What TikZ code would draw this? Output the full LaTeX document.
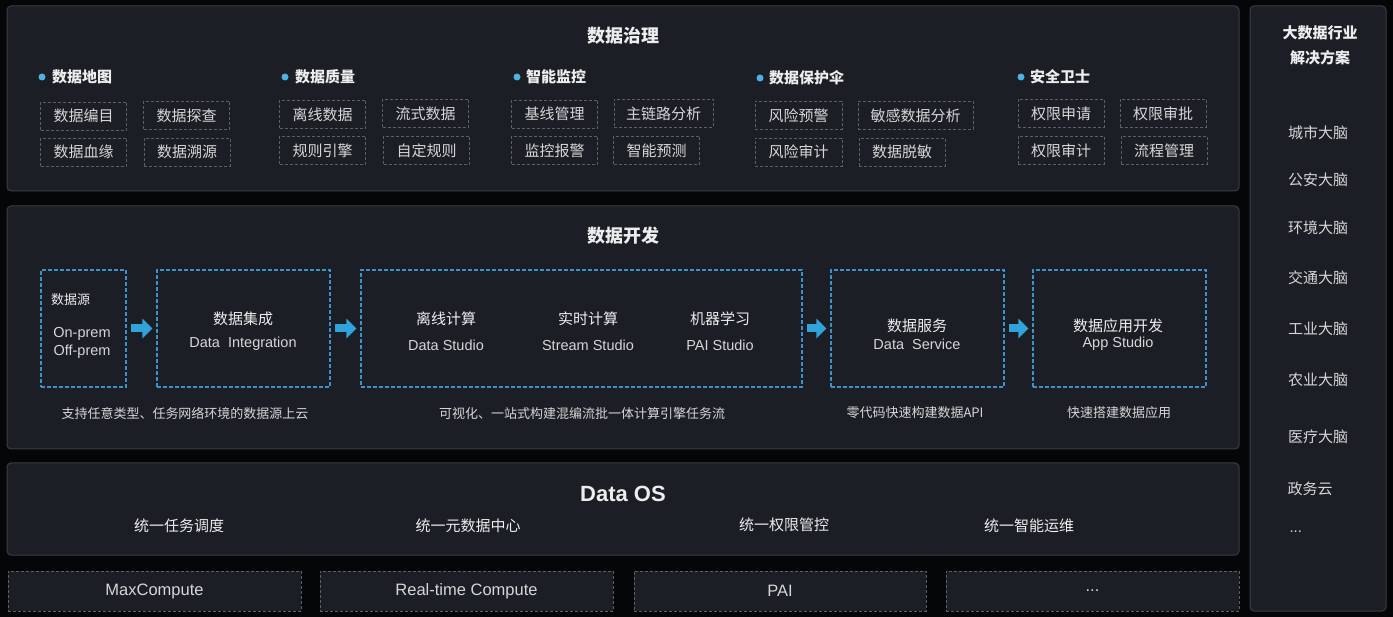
\documentclass[tikz,border=0pt]{standalone}
\usepackage{fontspec}
\setmainfont{Noto Sans CJK SC}
\newfontfamily\latinfont{Liberation Sans}
\usetikzlibrary{arrows.meta}
\definecolor{bg}{HTML}{050608}
\definecolor{panel}{HTML}{1C1E25}
\definecolor{pborder}{HTML}{3A3D45}
\definecolor{gdash}{HTML}{5C5F66}
\definecolor{bdash}{HTML}{3C92C8}
\definecolor{txt}{HTML}{EDEDED}
\definecolor{stxt}{HTML}{D6D6D6}
\definecolor{arrowblue}{HTML}{2FA3DA}
\begin{document}
\begin{tikzpicture}[x=1pt,y=-1pt,
  panelbox/.style={draw=pborder,fill=panel,line width=1pt,rounded corners=4pt},
  gbox/.style={draw=gdash,dash pattern=on 3pt off 2pt,line width=0.9pt,inner sep=0pt,
     text=stxt,font=\fontsize{15}{18}\selectfont},
  bbox/.style={draw=bdash,dash pattern=on 4pt off 2pt,line width=1.1pt,inner sep=0pt},
  botbox/.style={draw=gdash,fill=panel,dash pattern=on 3pt off 2pt,line width=0.9pt,inner sep=0pt,
     text=stxt,font=\latinfont\fontsize{16.5}{19}\selectfont},
  ptitle/.style={text=txt,font=\bfseries\fontsize{18}{22}\selectfont},
  ghead/.style={text=txt,anchor=west,inner sep=0pt,font=\bfseries\fontsize{15}{18}\selectfont},
  dot/.style={circle,fill=arrowblue!85!white,inner sep=0pt,minimum size=7pt},
  dtxt/.style={text=txt,font=\fontsize{15}{18}\selectfont},
  etxt/.style={text=stxt,font=\latinfont\fontsize{14.5}{17}\selectfont},
  captxt/.style={text=stxt,font=\fontsize{13}{16}\selectfont},
  ritem/.style={text=stxt,font=\fontsize{15}{18}\selectfont},
  blockarrow/.style={draw=arrowblue,line width=8pt,-{Triangle[width=19pt,length=10pt]},shorten <=4pt,shorten >=4pt}
]
\useasboundingbox (0,0) rectangle (1393,617);
\fill[bg] (0,0) rectangle (1393,617);

% ---------- panels ----------
\draw[panelbox] (7,6) rectangle (1239,191);
\draw[panelbox] (7,206) rectangle (1239,449);
\draw[panelbox] (7,463) rectangle (1239,555);
\draw[panelbox] (1250,6) rectangle (1386,611);

% ---------- governance ----------
\node[ptitle] (govt) at (623,36) {数据治理};

\node[dot] (d1) at (42,77) {};
\node[ghead] (h1) at (52,77) {数据地图};
\node[dot] (d2) at (285,77) {};
\node[ghead] (h2) at (295,77) {数据质量};
\node[dot] (d3) at (517,77) {};
\node[ghead] (h3) at (526,77) {智能监控};
\node[dot] (d4) at (760,78) {};
\node[ghead] (h4) at (769,78) {数据保护伞};
\node[dot] (d5) at (1021,77) {};
\node[ghead] (h5) at (1030,77) {安全卫士};

\node[gbox,minimum width=86pt,minimum height=28pt] (g11) at (83.5,116) {数据编目};
\node[gbox,minimum width=86pt,minimum height=28pt] (g12) at (186.5,115.5) {数据探查};
\node[gbox,minimum width=86pt,minimum height=28pt] (g13) at (83.5,152) {数据血缘};
\node[gbox,minimum width=86pt,minimum height=28pt] (g14) at (187,152) {数据溯源};

\node[gbox,minimum width=86pt,minimum height=28pt] (g21) at (322.5,114.5) {离线数据};
\node[gbox,minimum width=86pt,minimum height=28pt] (g22) at (425.5,113.5) {流式数据};
\node[gbox,minimum width=86pt,minimum height=28pt] (g23) at (322.5,150.5) {规则引擎};
\node[gbox,minimum width=86pt,minimum height=28pt] (g24) at (426.5,150.5) {自定规则};

\node[gbox,minimum width=86pt,minimum height=28pt] (g31) at (554.5,114) {基线管理};
\node[gbox,minimum width=99pt,minimum height=28pt] (g32) at (663.5,113.5) {主链路分析};
\node[gbox,minimum width=86pt,minimum height=28pt] (g33) at (554.5,150.5) {监控报警};
\node[gbox,minimum width=86pt,minimum height=28pt] (g34) at (656.5,150.5) {智能预测};

\node[gbox,minimum width=87pt,minimum height=28pt] (g41) at (798.5,115.5) {风险预警};
\node[gbox,minimum width=115pt,minimum height=28pt] (g42) at (915.5,115.5) {敏感数据分析};
\node[gbox,minimum width=87pt,minimum height=28pt] (g43) at (798.5,152) {风险审计};
\node[gbox,minimum width=86pt,minimum height=28pt] (g44) at (902,152) {数据脱敏};

\node[gbox,minimum width=86pt,minimum height=28pt] (g51) at (1061,113.5) {权限申请};
\node[gbox,minimum width=86pt,minimum height=28pt] (g52) at (1163,113.5) {权限审批};
\node[gbox,minimum width=86pt,minimum height=28pt] (g53) at (1061,150.5) {权限审计};
\node[gbox,minimum width=86pt,minimum height=28pt] (g54) at (1164,150.5) {流程管理};

% ---------- development ----------
\node[ptitle] (devt) at (623,236) {数据开发};

\node[bbox,minimum width=85pt,minimum height=117pt] (src) at (83.5,328.5) {};
\node[text=txt,anchor=west,inner sep=0pt,font=\fontsize{13}{16}\selectfont] (srct) at (51,300) {数据源};
\node[etxt,align=center,inner sep=0pt,font=\latinfont\fontsize{14.5}{18}\selectfont] (srce) at (82,343) {On-prem\\Off-prem};

\node[bbox,minimum width=173pt,minimum height=117pt] (di) at (243.5,328.5) {};
\node[dtxt] (dit) at (243,319) {数据集成};
\node[etxt] (die) at (243,344) {Data\ \ Integration};

\node[bbox,minimum width=441pt,minimum height=117pt] (comp) at (581.5,328.5) {};
\node[dtxt] (c1t) at (446,319) {离线计算};
\node[etxt] (c1e) at (446,345) {Data Studio};
\node[dtxt] (c2t) at (588,319) {实时计算};
\node[etxt] (c2e) at (588,345) {Stream Studio};
\node[dtxt] (c3t) at (720,319) {机器学习};
\node[etxt] (c3e) at (720,345) {PAI Studio};

\node[bbox,minimum width=173pt,minimum height=117pt] (ds) at (917.5,328.5) {};
\node[dtxt] (dst) at (917,326) {数据服务};
\node[etxt] (dse) at (917,344) {Data\ \ Service};

\node[bbox,minimum width=173pt,minimum height=117pt] (app) at (1119.5,328.5) {};
\node[dtxt] (appt) at (1118,326) {数据应用开发};
\node[etxt] (appe) at (1118,344) {App Studio};

\draw[blockarrow] (src.east) -- (di.west);
\draw[blockarrow] (di.east) -- (comp.west);
\draw[blockarrow] (comp.east) -- (ds.west);
\draw[blockarrow] (ds.east) -- (app.west);

\node[captxt] (cap1) at (185,413) {支持任意类型、任务网络环境的数据源上云};
\node[captxt] (cap2) at (582,414) {可视化、一站式构建混编流批一体计算引擎任务流};
\node[captxt] (cap3) at (915,413) {零代码快速构建数据API};
\node[captxt] (cap4) at (1119,413) {快速搭建数据应用};

% ---------- Data OS ----------
\node[text=txt,font=\latinfont\bfseries\fontsize{22}{26}\selectfont] (ost) at (623,494) {Data OS};
\node[dtxt] (os1) at (179,526) {统一任务调度};
\node[dtxt] (os2) at (468,526) {统一元数据中心};
\node[dtxt] (os3) at (784,525) {统一权限管控};
\node[dtxt] (os4) at (1029,526) {统一智能运维};

% ---------- bottom ----------
\node[botbox,minimum width=293pt,minimum height=40pt] (b1) at (154.5,591) {MaxCompute};
\node[botbox,minimum width=293pt,minimum height=40pt] (b2) at (466.5,591) {Real-time Compute};
\node[botbox,minimum width=292pt,minimum height=40pt] (b3) at (780,591) {PAI};
\node[botbox,minimum width=293pt,minimum height=40pt] (b4) at (1092.5,591) {...};

% ---------- right column ----------
\node[text=txt,align=center,font=\bfseries\fontsize{15}{25}\selectfont] (rt) at (1320,45) {大数据行业\\解决方案};
\node[ritem] (r1) at (1318,133) {城市大脑};
\node[ritem] (r2) at (1318,180) {公安大脑};
\node[ritem] (r3) at (1318,228) {环境大脑};
\node[ritem] (r4) at (1318,278) {交通大脑};
\node[ritem] (r5) at (1318,329) {工业大脑};
\node[ritem] (r6) at (1318,380) {农业大脑};
\node[ritem] (r7) at (1318,437) {医疗大脑};
\node[ritem] (r8) at (1310,489) {政务云};
\node[ritem,anchor=west,font=\latinfont\fontsize{15}{18}\selectfont] (r9) at (1286,532) {...};
\end{tikzpicture}
\end{document}
